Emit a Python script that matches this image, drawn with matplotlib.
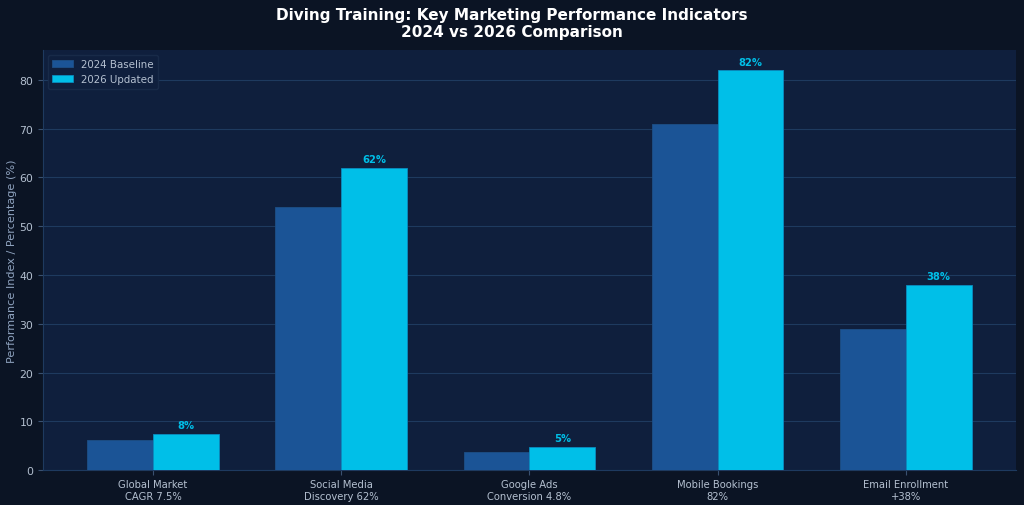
import matplotlib
matplotlib.use("Agg")
import matplotlib.pyplot as plt
import numpy as np

categories = ["Global Market\nCAGR 7.5%", "Social Media\nDiscovery 62%", "Google Ads\nConversion 4.8%",
              "Mobile Bookings\n82%", "Email Enrollment\n+38%"]
baseline_2024 = [6.2, 54, 3.8, 71, 29]
updated_2026 = [7.5, 62, 4.8, 82, 38]
updated_labels = ["8%", "62%", "5%", "82%", "38%"]
series_names = ["2024 Baseline", "2026 Updated"]

fig_bg = "#0b1424"
ax_bg = "#0f1f3d"
c_base = "#1b5496"
c_upd = "#00bfe8"
txt = "#b4c0d0"

fig, ax = plt.subplots(figsize=(10.24, 5.06), dpi=100)
fig.patch.set_facecolor(fig_bg)
ax.set_facecolor(ax_bg)

x = np.arange(len(categories))
w = 0.35
ax.bar(x - w/2, baseline_2024, w, color=c_base, edgecolor="#1d4f86", linewidth=0.6, label=series_names[0], zorder=3)
b2 = ax.bar(x + w/2, updated_2026, w, color=c_upd, edgecolor="#0a8cc0", linewidth=0.6, label=series_names[1], zorder=3)
for rect, lab in zip(b2, updated_labels):
    ax.text(rect.get_x() + rect.get_width()/2, rect.get_height() + 0.7, lab,
            ha="center", va="bottom", color=c_upd, fontsize=7.2, fontweight="bold")

ax.set_ylim(0, max(updated_2026) * 1.05)
ax.set_xticks(x)
ax.set_xticklabels(categories, fontsize=7.2)
ax.tick_params(axis="x", colors="#3a5170", pad=3)
ax.tick_params(axis="y", colors="#3a5170", labelsize=7.8)
for lbl in ax.get_xticklabels() + ax.get_yticklabels():
    lbl.set_color(txt)
ax.set_ylabel("Performance Index / Percentage (%)", color="#8fa3bf", fontsize=8.1, labelpad=1.5)
ax.grid(axis="y", color="#1e3a5f", linewidth=0.8, zorder=0)
ax.set_axisbelow(True)
for s in ["top", "right"]:
    ax.spines[s].set_visible(False)
for s in ["left", "bottom"]:
    ax.spines[s].set_color("#1e3a5f")

leg = ax.legend(loc="upper left", fontsize=7.4, facecolor=ax_bg, edgecolor="#1a2c4a",
                labelcolor=txt, framealpha=0.9)

fig.suptitle("Diving Training: Key Marketing Performance Indicators\n2024 vs 2026 Comparison",
             color="white", fontsize=11, fontweight="bold", y=0.985)
fig.subplots_adjust(left=0.042, right=0.992, top=0.899, bottom=0.069)
fig.savefig("out.png", dpi=100, facecolor=fig_bg)
